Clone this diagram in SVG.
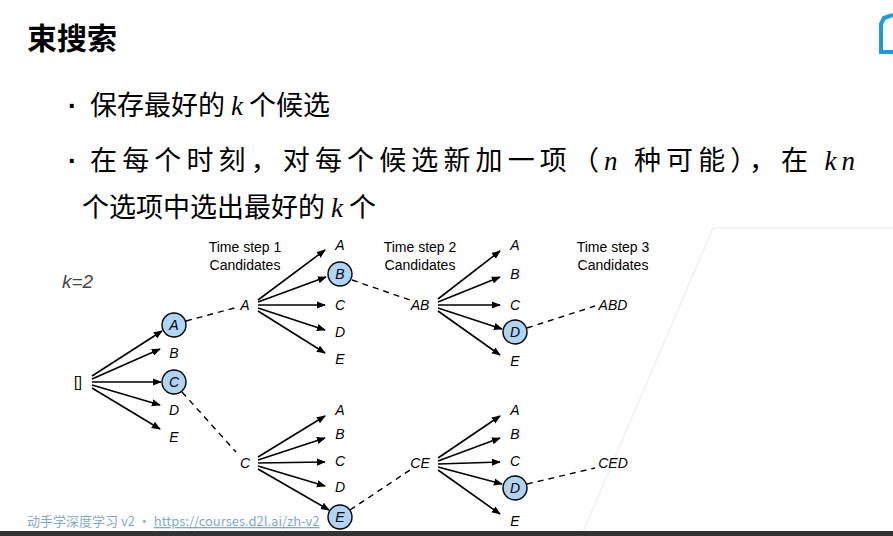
<svg xmlns="http://www.w3.org/2000/svg" width="893" height="536" viewBox="0 0 893 536">
<defs>
<marker id="ah" viewBox="0 0 10 10" refX="9" refY="5" markerWidth="9" markerHeight="9" markerUnits="userSpaceOnUse" orient="auto"><path d="M0,1 L10,5 L0,9 Z" fill="#000"/></marker>
<style>
.cjk{font-family:"Noto Sans CJK SC","Noto Sans",sans-serif}
.bu{font-family:"Liberation Sans",Arial,sans-serif;font-size:27px;font-weight:bold}
.lb{font-family:"Liberation Sans",Arial,sans-serif;font-style:italic;font-size:14px;text-anchor:middle}
.hd{font-family:"Liberation Sans",Arial,sans-serif;font-size:14px;text-anchor:middle}
.ar{stroke:#000;stroke-width:1.6;fill:none;marker-end:url(#ah)}
.ds{stroke:#000;stroke-width:1.4;fill:none;stroke-dasharray:6,5}
.nd{fill:#b0d4f4;stroke:#000;stroke-width:1.4}
.mi{font-family:"Liberation Serif",serif;font-style:italic}
</style>
</defs>
<rect width="893" height="536" fill="#fff"/>
<path d="M713,228 L893,228 M713,228 L583,532" stroke="#e8e8e8" stroke-width="1" fill="none"/>
<rect x="0" y="531" width="893" height="5" fill="#333"/>
<path d="M893,15 L884,18 L881,24 L881,52 L893,52" fill="none" stroke="#1a9be0" stroke-width="4"/>
<text x="27" y="49" class="cjk" font-size="30" font-weight="bold">束搜索</text>
<text x="68" y="115" class="bu">·</text><text x="68" y="170" class="bu">·</text>
<g class="cjk" font-size="27">
<text x="90" y="115">保存最好的 <tspan class="mi">k</tspan> 个候选</text>
<text x="90" y="170" textLength="765">在每个时刻，对每个候选新加一项（<tspan class="mi">n</tspan> 种可能），在 <tspan class="mi">kn</tspan></text>
<text x="82" y="217">个选项中选出最好的 <tspan class="mi">k</tspan> 个</text>
</g>
<text x="62" y="288" font-family="Liberation Sans,Arial,sans-serif" font-style="italic" font-size="19" fill="#444">k=2</text>
<g id="headers">
<text class="hd" x="245" y="252">Time step 1</text><text class="hd" x="245" y="270">Candidates</text>
<text class="hd" x="420" y="252">Time step 2</text><text class="hd" x="420" y="270">Candidates</text>
<text class="hd" x="613" y="252">Time step 3</text><text class="hd" x="613" y="270">Candidates</text>
</g>
<g id="connectors">
<path class="ar" d="M92,376 L162,331"/><path class="ar" d="M92,379 L160,349"/><path class="ar" d="M92,382 L161,382"/><path class="ar" d="M92,385 L160,405"/><path class="ar" d="M92,388 L160,429"/>
<path class="ds" d="M186,321 L238,307"/><path class="ds" d="M182,392 L236,452"/>
<path class="ar" d="M258,300 L325,250"/><path class="ar" d="M258,302 L326,277"/><path class="ar" d="M258,305 L325,305"/><path class="ar" d="M258,308 L325,330"/><path class="ar" d="M258,311 L325,353"/>
<path class="ds" d="M352,280 L410,300"/>
<path class="ar" d="M438,299 L500,251"/><path class="ar" d="M438,302 L500,277"/><path class="ar" d="M438,305 L500,305"/><path class="ar" d="M438,308 L502,329"/><path class="ar" d="M438,311 L500,355"/>
<path class="ds" d="M527,328 L595,306"/>
<path class="ar" d="M258,457 L325,416"/><path class="ar" d="M258,460 L325,438"/><path class="ar" d="M258,463 L325,462"/><path class="ar" d="M258,466 L325,486"/><path class="ar" d="M258,469 L329,510"/>
<path class="ds" d="M350,510 L410,470"/>
<path class="ar" d="M438,458 L500,416"/><path class="ar" d="M438,461 L500,438"/><path class="ar" d="M438,464 L500,462"/><path class="ar" d="M438,467 L502,484"/><path class="ar" d="M438,470 L500,514"/>
<path class="ds" d="M527,484 L595,468"/>
</g>
<g id="root"><text x="78" y="387" font-family="Liberation Sans,Arial,sans-serif" font-size="14" text-anchor="middle">[]</text></g>
<g id="t1">
<circle class="nd" cx="174" cy="325" r="12"/><text class="lb" x="174" y="330">A</text>
<text class="lb" x="174" y="358">B</text>
<circle class="nd" cx="174" cy="382" r="12"/><text class="lb" x="174" y="387">C</text>
<text class="lb" x="174" y="415">D</text><text class="lb" x="174" y="442">E</text>
</g>
<g id="t2a">
<text class="lb" x="245" y="310">A</text>
<text class="lb" x="340" y="250">A</text>
<circle class="nd" cx="340" cy="274" r="12"/><text class="lb" x="340" y="279">B</text>
<text class="lb" x="340" y="310">C</text><text class="lb" x="340" y="337">D</text><text class="lb" x="340" y="364">E</text>
</g>
<g id="t2c">
<text class="lb" x="245" y="468">C</text>
<text class="lb" x="340" y="415">A</text><text class="lb" x="340" y="439">B</text><text class="lb" x="340" y="466">C</text><text class="lb" x="340" y="492">D</text>
<circle class="nd" cx="340" cy="517" r="12"/><text class="lb" x="340" y="522">E</text>
</g>
<g id="t3ab">
<text class="lb" x="420" y="310">AB</text>
<text class="lb" x="515" y="250">A</text><text class="lb" x="515" y="279">B</text><text class="lb" x="515" y="310">C</text>
<circle class="nd" cx="515" cy="332" r="12"/><text class="lb" x="515" y="337">D</text>
<text class="lb" x="515" y="366">E</text>
<text class="lb" x="613" y="310">ABD</text>
</g>
<g id="t3ce">
<text class="lb" x="420" y="468">CE</text>
<text class="lb" x="515" y="415">A</text><text class="lb" x="515" y="439">B</text><text class="lb" x="515" y="466">C</text>
<circle class="nd" cx="515" cy="488" r="12"/><text class="lb" x="515" y="493">D</text>
<text class="lb" x="515" y="526">E</text>
<text class="lb" x="613" y="468">CED</text>
</g>
<text x="27" y="526" class="cjk" font-size="13" fill="#7fa8cc">动手学深度学习 v2 · <tspan text-decoration="underline">https://courses.d2l.ai/zh-v2</tspan></text>
</svg>
